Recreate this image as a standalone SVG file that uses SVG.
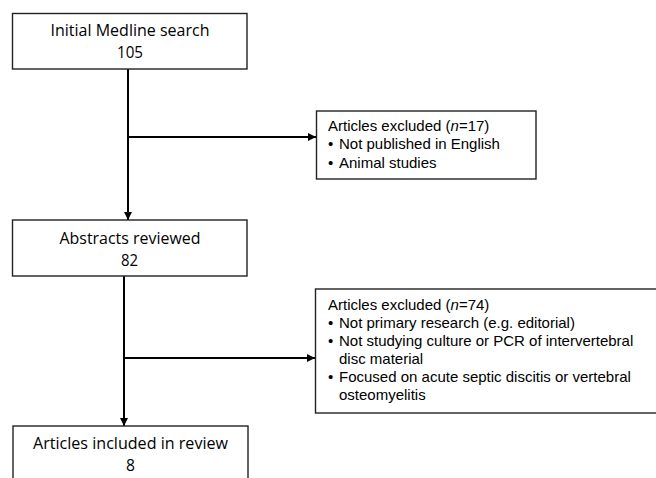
<svg xmlns="http://www.w3.org/2000/svg" width="656" height="478" viewBox="0 0 656 478">
<style>
.box{fill:#fff;stroke:#222;stroke-width:1.4}
.main{font-family:"Open Sans","Liberation Sans",sans-serif;font-size:15.5px;fill:#000;text-anchor:middle}
.ex{font-family:"Liberation Sans",Arial,sans-serif;font-size:15px;fill:#000}
.conn{stroke:#000;stroke-width:2;fill:none}
</style>
<defs>
<marker id="arr" viewBox="0 0 10 10" refX="10" refY="5" markerWidth="9" markerHeight="8" markerUnits="userSpaceOnUse" orient="auto">
<path d="M0,0 L10,5 L0,10 z" fill="#000"/>
</marker>
</defs>
<rect width="656" height="478" fill="#fff"/>
<g id="connectors">
<line class="conn" x1="128" y1="69" x2="128" y2="220" marker-end="url(#arr)"/>
<line class="conn" x1="128" y1="137" x2="316" y2="137" marker-end="url(#arr)"/>
<line class="conn" x1="124" y1="276" x2="124" y2="426" marker-end="url(#arr)"/>
<line class="conn" x1="124" y1="358" x2="315" y2="358" marker-end="url(#arr)"/>
</g>
<g id="n1">
<rect class="box" x="12.5" y="13.5" width="234.5" height="55.5"/>
<text class="main" x="130" y="36" textLength="159" lengthAdjust="spacingAndGlyphs">Initial Medline search</text>
<text class="main" x="130" y="58" textLength="26" lengthAdjust="spacingAndGlyphs">105</text>
</g>
<g id="e1">
<rect class="box" x="316.5" y="111" width="219.5" height="68"/>
<text class="ex" x="328" y="130.5">Articles excluded (<tspan font-style="italic">n</tspan>=17)</text>
<text class="ex" y="149"><tspan x="328">•</tspan><tspan x="339">Not published in English</tspan></text>
<text class="ex" y="167.5"><tspan x="328">•</tspan><tspan x="339">Animal studies</tspan></text>
</g>
<g id="n2">
<rect class="box" x="12.5" y="220" width="234.5" height="56"/>
<text class="main" x="130" y="244" textLength="141" lengthAdjust="spacingAndGlyphs">Abstracts reviewed</text>
<text class="main" x="129.5" y="266" textLength="17" lengthAdjust="spacingAndGlyphs">82</text>
</g>
<g id="e2">
<rect class="box" x="315.5" y="289" width="360" height="124"/>
<text class="ex" x="328" y="310">Articles excluded (<tspan font-style="italic">n</tspan>=74)</text>
<text class="ex" y="328"><tspan x="328">•</tspan><tspan x="339">Not primary research (e.g. editorial)</tspan></text>
<text class="ex" y="345.5"><tspan x="328">•</tspan><tspan x="339">Not studying culture or PCR of intervertebral</tspan></text>
<text class="ex" x="339" y="363.5">disc material</text>
<text class="ex" y="382"><tspan x="328">•</tspan><tspan x="339">Focused on acute septic discitis or vertebral</tspan></text>
<text class="ex" x="339" y="400">osteomyelitis</text>
</g>
<g id="n3">
<rect class="box" x="13" y="426" width="235" height="70"/>
<text class="main" x="130.5" y="449" textLength="195" lengthAdjust="spacingAndGlyphs">Articles included in review</text>
<text class="main" x="130.5" y="471" textLength="9" lengthAdjust="spacingAndGlyphs">8</text>
</g>
</svg>
